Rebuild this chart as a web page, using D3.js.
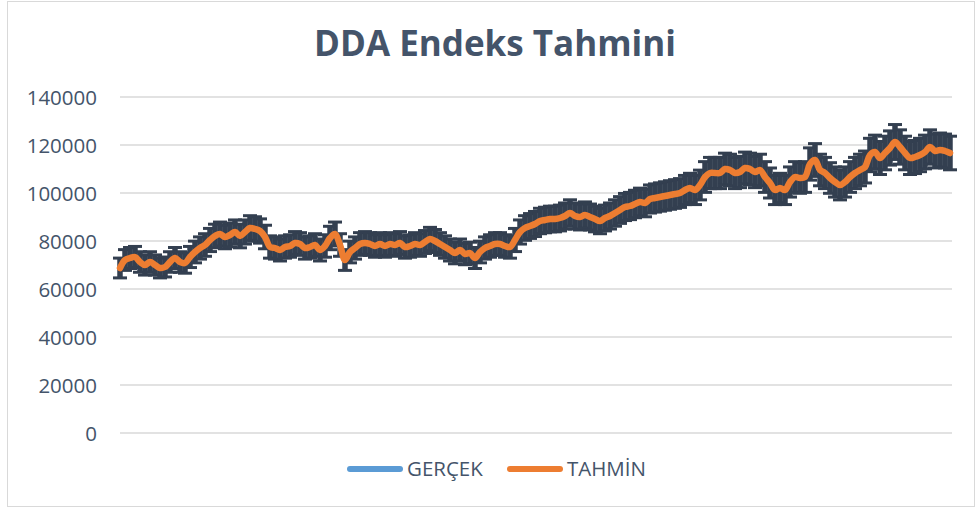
<!DOCTYPE html>
<html>
<head>
<meta charset="utf-8">
<script src="https://cdn.jsdelivr.net/npm/d3@7"></script>
<style>
  html, body { margin: 0; padding: 0; background: #ffffff; }
  svg { display: block; }
</style>
</head>
<body>
<svg id="chart" width="979" height="511"></svg>
<script>
// Daily index levels (GERÇEK) and the model forecast (TAHMİN).
// At this scale the forecast sits on top of the actual series.
const gercek = [
  68750, 72083, 72917, 73333, 71250, 70000, 71250, 70000, 68750, 69167,
  71250, 72917, 71250, 70833, 73333, 75417, 77083, 78333, 80417, 82083,
  82917, 81667, 82500, 83750, 82083, 83750, 85417, 85000, 84167, 81667,
  77500, 77083, 76250, 77500, 77917, 79167, 78750, 77083, 77500, 78333,
  76250, 77917, 81250, 82917, 78333, 72083, 75417, 77083, 78750, 79167,
  78750, 77917, 78750, 77917, 78750, 78333, 79167, 77500, 77917, 78750,
  78333, 79583, 80833, 80000, 78750, 77500, 76250, 75000, 76250, 74583,
  75000, 72917, 75417, 77083, 77917, 78750, 78750, 77917, 77500, 80417,
  83750, 85417, 86250, 87083, 88333, 88750, 89167, 89167, 89583, 90417,
  91667, 90417, 90000, 90833, 90000, 89167, 88333, 89583, 90417, 91667,
  92917, 94167, 94583, 95417, 96250, 95833, 97500, 97917, 98333, 98750,
  99167, 99583, 100000, 101250, 102083, 101250, 103333, 106667, 108333, 108333,
  108333, 110000, 109583, 108333, 108750, 110417, 110000, 108750, 109583, 106667,
  104167, 101250, 102083, 101250, 104583, 106667, 106250, 106667, 112083, 113750,
  109583, 108333, 106250, 104583, 103333, 104583, 106667, 108333, 109583, 110833,
  115833, 117083, 114583, 116667, 118750, 121250, 119167, 116667, 114583, 115000,
  115833, 117083, 119167, 117500, 117917, 117500, 116667
];
const tahmin = gercek;

const seriesNames = ["GERÇEK", "TAHMİN"];
const seriesColors = ["#5B9BD5", "#ED7D31"];
const yTicks = [0, 20000, 40000, 60000, 80000, 100000, 120000, 140000];
const errorPct = 0.06;   // percentage error bars on the actual series
const titleText = "DDA Endeks Tahmini";

const svg = d3.select("#chart");
const textColor = "#44546A";
const font = "'Open Sans', 'Noto Sans', sans-serif";

// chart area border
svg.append("rect")
  .attr("x", 7.5).attr("y", 1.5)
  .attr("width", 967).attr("height", 505)
  .attr("fill", "#ffffff")
  .attr("stroke", "#D9D9D9").attr("stroke-width", 1);

const plot = { left: 120, right: 952, top: 97, bottom: 433 };

const y = d3.scaleLinear().domain([0, 140000]).range([plot.bottom, plot.top]);
const x = d3.scaleLinear().domain([0, gercek.length - 1]).range([plot.left, plot.right - 2]);

// gridlines
svg.append("g")
  .selectAll("line")
  .data(yTicks)
  .join("line")
  .attr("x1", plot.left).attr("x2", plot.right)
  .attr("y1", d => y(d)).attr("y2", d => y(d))
  .attr("stroke", "#D9D9D9").attr("stroke-width", 1.5);

// y axis labels
const yAxis = d3.axisLeft(y).tickValues(yTicks).tickSize(0).tickPadding(0)
  .tickFormat(d3.format("d"));
const gy = svg.append("g").attr("transform", `translate(${plot.left - 23},0)`).call(yAxis);
gy.select(".domain").remove();
gy.selectAll("text")
  .attr("fill", textColor)
  .attr("font-family", font)
  .attr("font-size", 20.5)
  .attr("dy", "0.36em");

// title
svg.append("text")
  .attr("x", 495).attr("y", 56)
  .attr("text-anchor", "middle")
  .attr("fill", textColor)
  .attr("font-family", font)
  .attr("font-weight", 700)
  .attr("font-size", 35)
  .text(titleText);

const line = d3.line().x((d, i) => x(i)).y(d => y(d)).curve(d3.curveCatmullRom);

// actual series
svg.append("path")
  .datum(gercek)
  .attr("d", line)
  .attr("fill", "none")
  .attr("stroke", seriesColors[0])
  .attr("stroke-width", 5)
  .attr("stroke-linejoin", "round");

// error bars on the actual series
const eb = svg.append("g").attr("stroke", "#333F50");
const capW = 7;
gercek.forEach((v, i) => {
  const cx = x(i);
  const lo = y(v * (1 - errorPct));
  const hi = y(v * (1 + errorPct));
  eb.append("line").attr("x1", cx).attr("x2", cx).attr("y1", lo).attr("y2", hi)
    .attr("stroke-width", 5.5);
  eb.append("line").attr("x1", cx - capW).attr("x2", cx + capW).attr("y1", lo).attr("y2", lo)
    .attr("stroke-width", 3);
  eb.append("line").attr("x1", cx - capW).attr("x2", cx + capW).attr("y1", hi).attr("y2", hi)
    .attr("stroke-width", 3);
});

// forecast series
svg.append("path")
  .datum(tahmin)
  .attr("d", line)
  .attr("fill", "none")
  .attr("stroke", seriesColors[1])
  .attr("stroke-width", 6.5)
  .attr("stroke-linejoin", "round")
  .attr("stroke-linecap", "round");

// legend
const legendItems = [
  { name: seriesNames[0], color: seriesColors[0], x: 347 },
  { name: seriesNames[1], color: seriesColors[1], x: 507 }
];
const lg = svg.append("g");
legendItems.forEach(it => {
  lg.append("line")
    .attr("x1", it.x + 3).attr("x2", it.x + 53)
    .attr("y1", 469).attr("y2", 469)
    .attr("stroke", it.color).attr("stroke-width", 6)
    .attr("stroke-linecap", "round");
  lg.append("text")
    .attr("x", it.x + 60).attr("y", 469)
    .attr("dy", "0.36em")
    .attr("fill", textColor)
    .attr("font-family", font)
    .attr("font-size", 20.5)
    .text(it.name);
});
</script>
</body>
</html>
